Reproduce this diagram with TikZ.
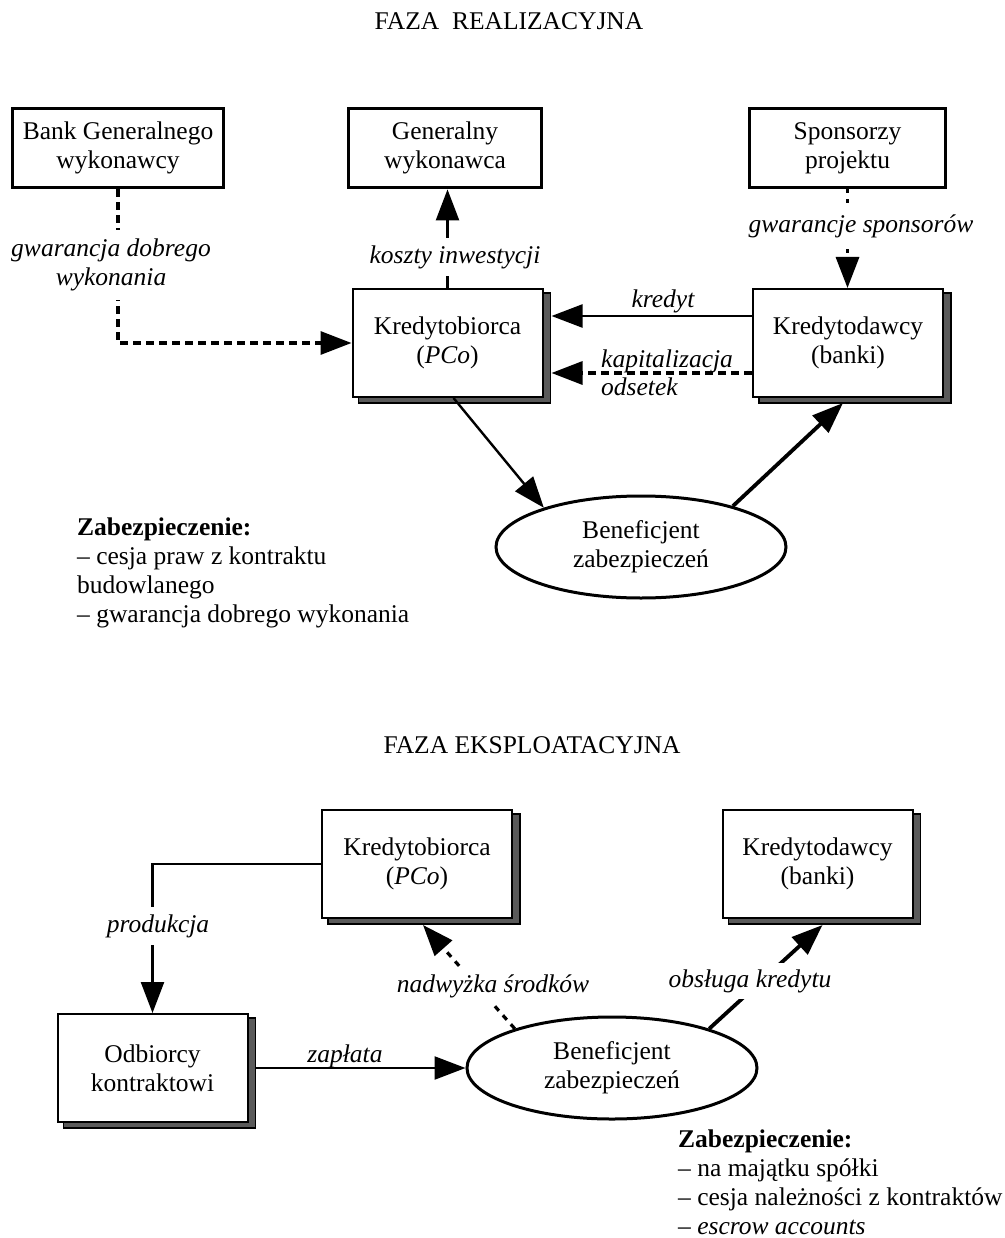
\documentclass[tikz,border=0pt]{standalone}
\usepackage{fontspec}
\setmainfont{Liberation Serif}
\usetikzlibrary{arrows.meta,shapes.geometric,backgrounds}
\definecolor{shgray}{HTML}{5A5A5A}
\begin{document}
\begin{tikzpicture}[x=1pt,y=-1pt,
  every node/.style={font=\fontsize{25.5}{29}\selectfont},
  thickbox/.style={draw, line width=3.8pt, fill=white, align=center, inner sep=0pt, minimum height=79pt},
  shbox/.style={draw, line width=2pt, fill=white, align=center, inner sep=0pt, minimum width=190pt, minimum height=108pt},
  benef/.style={ellipse, draw, line width=3pt, fill=white, align=center, inner sep=0pt, minimum width=290pt, minimum height=102pt},
  shadowrect/.style={draw=black, line width=1.2pt, fill=shgray},
  tipA/.style={-{Triangle[length=31pt,width=23pt]}},
  conn/.style={line width=2.4pt, tipA},
  thickconn/.style={line width=3.8pt, tipA},
  dashconn/.style={line width=3.2pt, dash pattern=on 8pt off 5pt, tipA},
  dotconn/.style={line width=3.2pt, dash pattern=on 4pt off 6pt, tipA},
  lbl/.style={font=\fontsize{25.5}{29}\selectfont\itshape, inner sep=2pt},
  lblw/.style={lbl, fill=white, align=center, inner ysep=7pt, inner xsep=3pt},
]
\useasboundingbox (0,0) rectangle (1004,1238);

% titles
\node[anchor=base] (t1) at (509,30) {FAZA\ \ REALIZACYJNA};
\node[anchor=base west] (t2) at (380,753) {FAZA EKSPLOATACYJNA};

% ---------- top phase ----------
\node[thickbox, minimum width=211pt] (bank) at (118,148) {Bank Generalnego\\wykonawcy};
\node[thickbox, minimum width=193pt] (gw) at (445,148) {Generalny\\wykonawca};
\node[thickbox, minimum width=196pt] (sp) at (847.5,148) {Sponsorzy\\projektu};
\node[shbox] (kb1) at (447.5,343) {Kredytobiorca\\(\textit{PCo})};
\node[shbox] (kd1) at (848,343) {Kredytodawcy\\(banki)};
\node[benef] (el1) at (641,547) {Beneficjent\\zabezpieczeń};

\draw[dashconn] (bank.south) |- (kb1.west);
\node[lblw, inner ysep=9pt] (l1) at (111,265) {gwarancja dobrego\\wykonania};

\draw[conn] (kb1.north) -- (kb1.north |- gw.south);
\node[lblw] (l2) at (455,257) {koszty inwestycji};

\draw[dotconn] (sp.south) -- (sp.south |- kd1.north);
\node[lblw] (l3) at (861,226) {gwarancje sponsorów};

\draw[conn] ([yshift=27pt]kd1.west) -- ([xshift=8pt,yshift=27pt]kb1.east);
\node[lbl, anchor=base] (l4) at (663,307) {kredyt};

\draw[dashconn] ([yshift=-30pt]kd1.west) -- ([xshift=8pt,yshift=-30pt]kb1.east);
\node[lbl, anchor=base west] (l5a) at (599,367) {kapitalizacja};
\node[lbl, anchor=base west] (l5b) at (599,395) {odsetek};

\draw[conn] ([xshift=6pt]kb1.south) -- (el1.158);
\draw[thickconn] (el1.24) -- ([xshift=-5pt,yshift=-5pt]kd1.south);

\node[anchor=north west, align=left, inner sep=0pt] (z1) at (77,517.5)
  {\textbf{Zabezpieczenie:}\\– cesja praw z kontraktu\\budowlanego\\– gwarancja dobrego wykonania};

% ---------- bottom phase ----------
\node[shbox] (kb2) at (417,864) {Kredytobiorca\\(\textit{PCo})};
\node[shbox] (kd2) at (817.5,864) {Kredytodawcy\\(banki)};
\node[shbox] (od) at (152.5,1068) {Odbiorcy\\kontraktowi};
\node[benef] (el2) at (612,1068) {Beneficjent\\zabezpieczeń};

\draw[conn] (kb2.west) -| (od.north);
\node[lblw] (l6) at (158,926) {produkcja};

\draw[conn] ([xshift=7pt]od.east) -- (el2.west);
\node[lbl, anchor=base] (l7) at (345,1062) {zapłata};

\draw[dotconn, dash pattern=on 6pt off 6pt] (el2.158) -- ([xshift=6pt,yshift=-6pt]kb2.south);
\node[lblw, inner ysep=5pt] (l8) at (493,986) {nadwyżka środków};

\draw[thickconn] (el2.22) -- ([xshift=5pt,yshift=-6pt]kd2.south);
\node[lblw, inner ysep=6pt] (l9) at (750,981) {obsługa kredytu};

\node[anchor=north west, align=left, inner sep=0pt] (z2) at (678,1129.5)
  {\textbf{Zabezpieczenie:}\\– na majątku spółki\\– cesja należności z kontraktów\\– \textit{escrow accounts}};

% ---------- background: page and shadows ----------
\begin{scope}[on background layer]
\fill[white] (0,0) rectangle (1004,1238);
\foreach \n in {kb1,kd1,kb2,kd2,od}{
  \draw[shadowrect] ([shift={(7,5)}]\n.north west) rectangle ([shift={(7,5)}]\n.south east);
}
\end{scope}
\end{tikzpicture}
\end{document}
